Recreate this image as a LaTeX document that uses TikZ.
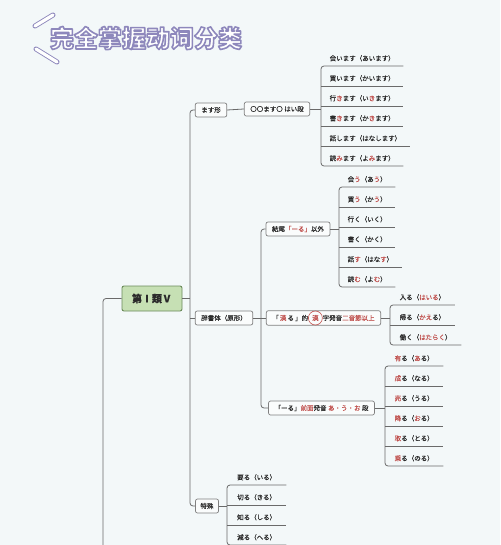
\documentclass[tikz,border=0pt]{standalone}
\usepackage{fontspec}
\setmainfont{Noto Sans CJK JP}[FakeBold=0.35]
\newfontfamily\cjksc{Noto Sans CJK SC}
\usetikzlibrary{calc}
\definecolor{bgc}{HTML}{F3F8F9}
\definecolor{txt}{HTML}{2A2A2A}
\definecolor{linec}{HTML}{6A6A6A}
\definecolor{boxb}{HTML}{808080}
\definecolor{boxf}{HTML}{FAFCFC}
\definecolor{redc}{HTML}{C0504D}
\definecolor{rootf}{HTML}{C6E0B4}
\definecolor{rootb}{HTML}{6A8A5A}
\definecolor{ttl}{HTML}{8E88BC}
\newcommand{\rd}[1]{\textcolor{redc}{#1}}
\newcommand{\outlinetext}[1]{\color{white}\special{pdf:literal direct 0.557 0.533 0.737 RG 1.6 w 1 j 2 Tr}#1\special{pdf:literal direct 0 Tr}}
\begin{document}
\begin{tikzpicture}[x=1pt,y=-1pt,
  every node/.style={font=\fontsize{6.5}{7}\selectfont, text=txt},
  conn/.style={draw=linec, line width=0.8pt, rounded corners=3pt},
  box/.style={draw=boxb, fill=boxf, rounded corners=2pt, line width=0.7pt, inner xsep=6pt, inner ysep=0pt, minimum height=14pt},
  leaf/.style={anchor=south west, inner xsep=8.5pt, inner ysep=0pt, minimum height=15pt},
  rootbox/.style={draw=rootb, fill=rootf, rounded corners=2pt, line width=0.9pt, minimum width=60pt, minimum height=25pt, font=\fontsize{10}{11}\selectfont\bfseries},
  ttlfont/.style={font=\cjksc\bfseries\fontsize{24}{26}\selectfont}
]
\fill[bgc] (0,0) rectangle (500,545);
\clip (0,0) rectangle (500,545);

% title decoration
\coordinate (d1a) at (35,26); \coordinate (d1b) at (53,15);
\coordinate (d2a) at (36,49); \coordinate (d2b) at (57,62);
\foreach \p/\q in {d1a/d1b, d2a/d2b}{
  \draw[ttl, line width=5pt, line cap=round] (\p) -- (\q);
  \draw[white, line width=3.2pt, line cap=round] (\p) -- (\q);
}
\node[ttlfont] (title) at (146,38) {\outlinetext{完全掌握动词分类}};

% root and first level
\node[rootbox] (root) at (152,298.5) {第Ⅰ類Ⅴ};
\node[box] (masu) at (211,110) {ます形};
\node[box] (jisho) at (224,318) {辞書体（原形）};
\node[box, inner xsep=5pt] (toku) at (207,506) {特殊};
\coordinate (v0) at (190,0);
\coordinate (bot) at (103,560);
\draw[conn] (root.west) -- (root.west -| bot) -- (bot);
\draw[conn] (masu.west) -- (masu.west -| v0) -- (toku.west -| v0) -- (toku.west);
\draw[conn] (root.east) -- (root.east -| v0);
\draw[conn] (jisho.west) -- (jisho.west -| v0);

% group 1
\node[box] (g1) at (277,109) {〇〇ます〇 はい段};
\draw[conn] (masu.east) -- (g1.west);
\node[leaf] (a1) at (321,66) {会います（あいます）};
\node[leaf] (a2) at (321,86) {買います（かいます）};
\node[leaf] (a3) at (321,106) {行\rd{き}ます（い\rd{き}ます）};
\node[leaf] (a4) at (321,126) {書\rd{き}ます（か\rd{き}ます）};
\node[leaf] (a5) at (321,146) {話します（はなします）};
\node[leaf] (a6) at (321,166) {読\rd{み}ます（よ\rd{み}ます）};
\draw[conn] (a1.south east) -- (a1.south west) -- (a6.south west) -- (a6.south east);
\foreach \i in {2,...,5} \draw[conn] (a\i.south west) -- (a\i.south east);
\draw[conn] (g1.east) -- (g1.east -| a1.south west);

% second level under jisho
\coordinate (v1) at (261,0);
\node[box] (g2) at (298,229) {結尾\rd{「ーる」}以外};
\node[box] (g3) at (323.5,318) {「\,\rd{漢}\,る\,」的\tikz[baseline=(cc.base)]\node[circle, draw=redc, line width=0.6pt, inner sep=0.4pt, font=\fontsize{6.5}{7}\selectfont, text=redc] (cc) {漢};字発音\rd{二音節以上}};
\node[box] (g4) at (321.5,408) {「ーる」\rd{前面}発音 \rd{あ・う・お} 段};
\draw[conn] (g2.west) -- (g2.west -| v1) -- (g4.west -| v1) -- (g4.west);
\draw[conn] (jisho.east) -- (g3.west);

% group 2
\node[leaf] (b1) at (339,187) {会\rd{う}（あ\rd{う}）};
\node[leaf] (b2) at (339,207) {買\rd{う}（か\rd{う}）};
\node[leaf] (b3) at (339,227) {行く（いく）};
\node[leaf] (b4) at (339,247) {書く（かく）};
\node[leaf] (b5) at (339,267) {話\rd{す}（はな\rd{す}）};
\node[leaf] (b6) at (339,287) {読\rd{む}（よ\rd{む}）};
\draw[conn] (b1.south east) -- (b1.south west) -- (b6.south west) -- (b6.south east);
\foreach \i in {2,...,5} \draw[conn] (b\i.south west) -- (b\i.south east);
\draw[conn] (g2.east) -- (g2.east -| b1.south west);

% group 3
\node[leaf, inner xsep=9.5pt] (c1) at (390,305) {入る（\rd{はいる}）};
\node[leaf, inner xsep=9.5pt] (c2) at (390,325) {帰る（\rd{かえ}る）};
\node[leaf, inner xsep=9.5pt] (c3) at (390,345) {働く（\rd{はたらく}）};
\draw[conn] (c1.south east) -- (c1.south west) -- (c3.south west) -- (c3.south east);
\draw[conn] (c2.south west) -- (c2.south east);
\draw[conn] (g3.east) -- (g3.east -| c1.south west);

% group 4
\node[leaf, inner xsep=9.5pt] (e1) at (385,366) {\rd{有}る（\rd{あ}る）};
\node[leaf, inner xsep=9.5pt] (e2) at (385,386) {\rd{成}る（なる）};
\node[leaf, inner xsep=9.5pt] (e3) at (385,406) {\rd{売}る（うる）};
\node[leaf, inner xsep=9.5pt] (e4) at (385,426) {\rd{降}る（\rd{お}る）};
\node[leaf, inner xsep=9.5pt] (e5) at (385,446) {\rd{取}る（とる）};
\node[leaf, inner xsep=9.5pt] (e6) at (385,466) {\rd{乗}る（のる）};
\draw[conn] (e1.south east) -- (e1.south west) -- (e6.south west) -- (e6.south east);
\foreach \i in {2,...,5} \draw[conn] (e\i.south west) -- (e\i.south east);
\draw[conn] (g4.east) -- (g4.east -| e1.south west);

% group 5
\node[leaf, inner xsep=10pt] (f1) at (227,485) {要る（いる）};
\node[leaf, inner xsep=10pt] (f2) at (227,505) {切る（きる）};
\node[leaf, inner xsep=10pt] (f3) at (227,525) {知る（しる）};
\node[leaf, inner xsep=10pt] (f4) at (227,545) {減る（へる）};
\draw[conn] (f1.south east) -- (f1.south west) -- (f4.south west) -- (f4.south east);
\foreach \i in {2,3} \draw[conn] (f\i.south west) -- (f\i.south east);
\draw[conn] (toku.east) -- (toku.east -| f1.south west);
\end{tikzpicture}
\end{document}
